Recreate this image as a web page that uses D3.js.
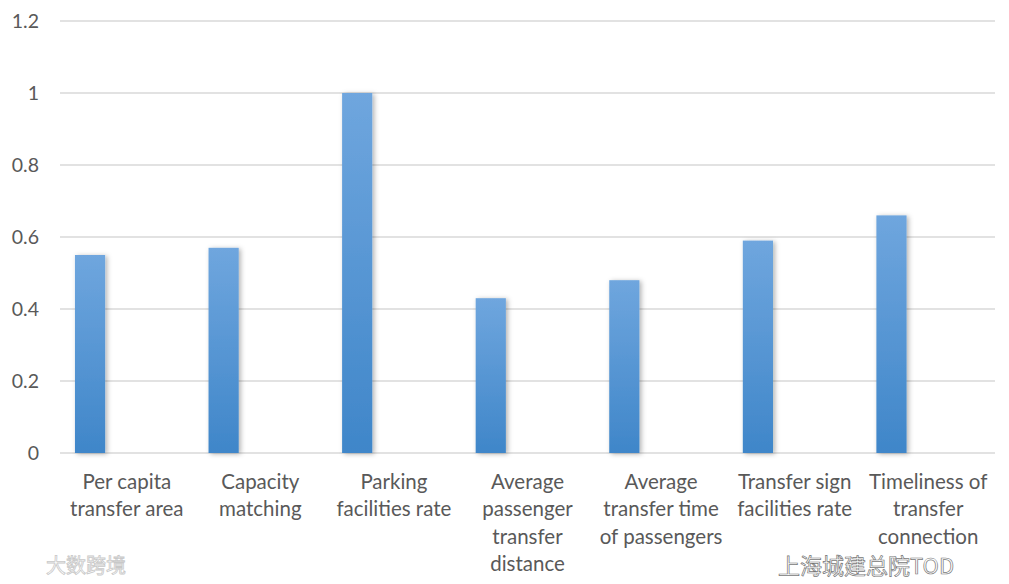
<!DOCTYPE html>
<html lang="en">
<head>
    <meta charset="utf-8">
    <title>Transfer indicators</title>
    <script src="https://d3js.org/d3.v7.min.js"></script>
    <style>
        body { margin: 0; background: #fff; }
        svg text { font-family: Lato, "Open Sans", sans-serif; fill: #595959; }
    </style>
</head>
<body>
<div id="chart"></div>
<script>
    // chart data
    const categories = [
        ["Per capita", "transfer area"],
        ["Capacity", "matching"],
        ["Parking", "facilities rate"],
        ["Average", "passenger", "transfer", "distance"],
        ["Average", "transfer time", "of passengers"],
        ["Transfer sign", "facilities rate"],
        ["Timeliness of", "transfer", "connection"]
    ];
    const values = [0.55, 0.57, 1.0, 0.43, 0.48, 0.59, 0.66];
    const yTicks = [0, 0.2, 0.4, 0.6, 0.8, 1, 1.2];

    const width = 1009, height = 584;
    const margin = {top: 21, right: 14, bottom: 131, left: 60};

    const svg = d3.select("#chart").append("svg")
        .attr("width", width).attr("height", height);

    const defs = svg.append("defs");
    const grad = defs.append("linearGradient")
        .attr("id", "barGrad").attr("x1", 0).attr("y1", 0).attr("x2", 0).attr("y2", 1);
    grad.append("stop").attr("offset", "0%").attr("stop-color", "#6fa6de");
    grad.append("stop").attr("offset", "100%").attr("stop-color", "#3f86c9");

    const shadow = defs.append("filter").attr("id", "shadow")
        .attr("x", "-30%").attr("y", "-5%").attr("width", "160%").attr("height", "110%");
    shadow.append("feDropShadow").attr("dx", 2).attr("dy", 1)
        .attr("stdDeviation", 2.5).attr("flood-color", "#000").attr("flood-opacity", 0.3);

    const x = d3.scaleBand()
        .domain(d3.range(categories.length))
        .range([margin.left, width - margin.right]);

    const y = d3.scaleLinear()
        .domain([0, 1.2])
        .range([height - margin.bottom, margin.top]);

    // gridlines
    svg.append("g").selectAll("line")
        .data(yTicks)
        .join("line")
        .attr("x1", margin.left).attr("x2", width - margin.right)
        .attr("y1", d => y(d)).attr("y2", d => y(d))
        .attr("stroke", "#d9d9d9").attr("stroke-width", 1.5);

    // y tick labels
    svg.append("g").selectAll("text")
        .data(yTicks)
        .join("text")
        .attr("x", 39).attr("y", d => y(d))
        .attr("dy", "0.35em")
        .attr("text-anchor", "end")
        .attr("font-size", 19.5)
        .text(d => d);

    // bars sit in the left half of each category (second series is empty)
    const barOffset = x.bandwidth() * 0.112, barWidth = x.bandwidth() * 0.226;
    svg.append("g").selectAll("rect")
        .data(values)
        .join("rect")
        .attr("x", (d, i) => x(i) + barOffset)
        .attr("width", barWidth)
        .attr("y", d => y(d))
        .attr("height", d => y(0) - y(d))
        .attr("fill", "url(#barGrad)")
        .attr("filter", "url(#shadow)");

    // category labels
    const labels = svg.append("g").selectAll("text")
        .data(categories)
        .join("text")
        .attr("text-anchor", "middle")
        .attr("font-size", 20.5);
    labels.selectAll("tspan")
        .data((d, i) => d.map(t => ({t, i})))
        .join("tspan")
        .attr("x", d => x(d.i) + x.bandwidth() / 2)
        .attr("y", (d, j) => 489 + j * 27.3)
        .text(d => d.t);

    // watermarks
    svg.append("text")
        .attr("x", 46).attr("y", 573)
        .attr("font-size", 20)
        .style("fill", "#fff").style("stroke", "#c8c8c8").style("stroke-width", 0.8)
        .style("font-family", "'Noto Sans CJK SC', sans-serif")
        .text("大数跨境");
    svg.append("text")
        .attr("x", 778).attr("y", 574)
        .attr("font-size", 22)
        .style("fill", "#fff").style("fill-opacity", 0.6).style("stroke", "#777").style("stroke-width", 0.7)
        .style("font-family", "'Noto Sans CJK SC', sans-serif")
        .text("上海城建总院TOD");
</script>
</body>
</html>
